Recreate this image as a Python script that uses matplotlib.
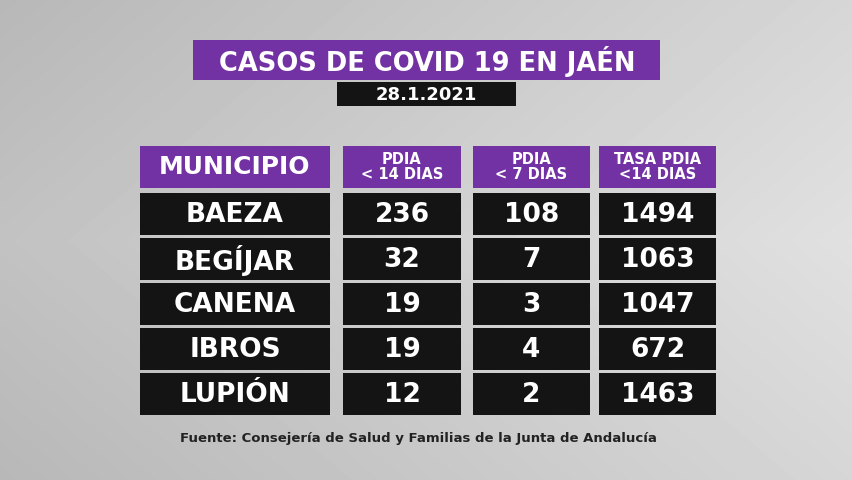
"""Tabla de casos de COVID 19 en Jaén (28.1.2021)."""

import numpy as np
import matplotlib.pyplot as plt
from matplotlib.patches import Rectangle

TITLE = 'CASOS DE COVID 19 EN JAÉN'
DATE = '28.1.2021'
SOURCE = 'Fuente: Consejería de Salud y Familias de la Junta de Andalucía'

headers = ['MUNICIPIO', 'PDIA\n< 14 DIAS', 'PDIA\n< 7 DIAS', 'TASA PDIA\n<14 DIAS']
municipios = ['BAEZA', 'BEGÍJAR', 'CANENA', 'IBROS', 'LUPIÓN']
pdia_14 = [236, 32, 19, 19, 12]
pdia_7 = [108, 7, 3, 4, 2]
tasa_14 = [1494, 1063, 1047, 672, 1463]

PURPLE = '#7232a3'
BLACK = '#141414'

# column spans in pixels (left, right)
col_x = [(140, 330), (343, 461), (473, 590), (599, 716)]
row_h = 42
row_gap = 3
header_top = 146
first_row_top = 193


def box(ax, x0, x1, y0, y1, color):
    ax.add_patch(Rectangle((x0, y0), x1 - x0, y1 - y0, color=color, lw=0))


fig = plt.figure(figsize=(8.53, 4.8), dpi=100)
ax = fig.add_axes([0, 0, 1, 1])
ax.set_xlim(0, 853)
ax.set_ylim(480, 0)
ax.axis('off')

# grey background, lighter to the right
yy, xx = np.mgrid[0:480, 0:853]
bg = 0.76 + 0.12 * (xx / 853) - 0.04 * np.abs(yy - 240) / 240
ax.imshow(bg, cmap='gray', vmin=0, vmax=1, extent=(0, 853, 480, 0), zorder=0)

# title and date
box(ax, 193, 660, 40, 80, PURPLE)
ax.text(427, 61, TITLE, color='white', fontsize=18.5, fontweight='bold',
        ha='center', va='center')
box(ax, 337, 516, 82, 106, BLACK)
ax.text(426, 95, DATE, color='white', fontsize=13, fontweight='bold',
        ha='center', va='center')

# header
for i, (x0, x1) in enumerate(col_x):
    box(ax, x0, x1, header_top, header_top + row_h, PURPLE)
    size = 18 if i == 0 else 10.5
    ax.text((x0 + x1) / 2, header_top + row_h / 2, headers[i], color='white',
            fontsize=size, fontweight='bold', ha='center', va='center',
            linespacing=1.0)

# rows
for r, name in enumerate(municipios):
    y0 = first_row_top + r * (row_h + row_gap)
    values = [name, pdia_14[r], pdia_7[r], tasa_14[r]]
    for i, (x0, x1) in enumerate(col_x):
        box(ax, x0, x1, y0, y0 + row_h, BLACK)
        ax.text((x0 + x1) / 2, y0 + row_h / 2 + 1, str(values[i]),
                color='white', fontsize=19, fontweight='bold',
                ha='center', va='center')

ax.text(418, 439, SOURCE, color='#222222', fontsize=9.5, fontweight='bold',
        ha='center', va='center')

fig.savefig('out.png', dpi=100)
